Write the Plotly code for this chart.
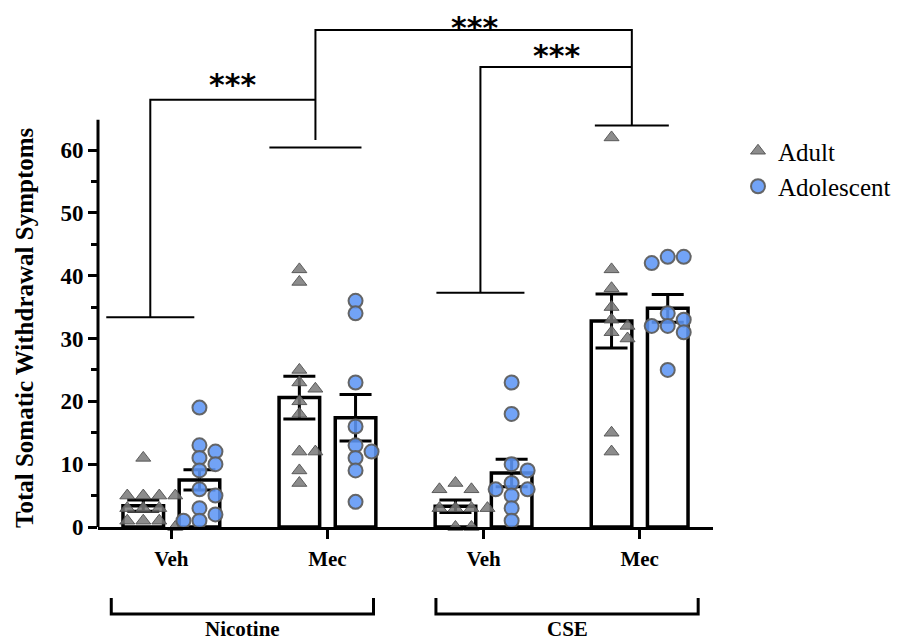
import plotly.graph_objects as go

# ---- data ----
group_labels = ["Veh", "Mec", "Veh", "Mec"]
drug_labels = ["Nicotine", "CSE"]

adult_points = [
    [11, 5, 5, 5, 5, 3, 3, 3, 1, 1, 1, 0],
    [41, 39, 25, 23, 22, 20, 18, 12, 12, 9, 7],
    [7, 6, 6, 3, 3, 3, 3, 0, 0],
    [62, 41, 38, 35, 33, 32, 31, 30, 15, 12],
]
adolescent_points = [
    [19, 13, 12, 11, 10, 9, 6, 5, 3, 2, 1, 1],
    [36, 34, 23, 16, 13, 12, 11, 9, 4],
    [23, 18, 10, 9, 7, 6, 6, 5, 3, 1],
    [43, 43, 42, 34, 33, 32, 32, 31, 25],
]
adult_mean = [3.4, 20.6, 3.3, 32.8]
adult_sem = [0.9, 3.4, 1.0, 4.3]
adolescent_mean = [7.5, 17.4, 8.6, 34.8]
adolescent_sem = [1.6, 3.7, 2.2, 2.2]

y_ticks = [0, 10, 20, 30, 40, 50, 60]

# heights of the significance brackets (axis units)
group_bar_y = [33.4, 60.4, 37.3, 63.9]
sig_top_y = [68.0, 79.1, 73.2]

# ---- geometry (page has an 8px body margin) ----
W, H = 893, 635
ML, MR, MT, MB = 90, 188, 0, 116
X_RANGE = [-0.47, 3.47]
Y_RANGE = [0, 82.6]
PX_X = (W - ML - MR) / (X_RANGE[1] - X_RANGE[0])
PX_Y = (H - MT - MB) / (Y_RANGE[1] - Y_RANGE[0])
OFF = 0.18
BAR_W = 0.26
drop_x = [-0.135, 0.923, 1.98, 2.95]
drop_half = [0.282, 0.295, 0.282, 0.237]


def swarm(vals, xc, diam=11.5, step=8.0):
    placed = []
    xs = [0.0] * len(vals)
    order = sorted(range(len(vals)), key=lambda i: -vals[i])
    cands = [0.0]
    for k in range(1, 8):
        cands += [k * step, -k * step]
    for i in order:
        ypx = vals[i] * PX_Y
        best = cands[-1]
        for c in cands:
            if all((c - px) ** 2 + (ypx - py) ** 2 >= diam ** 2 for px, py in placed):
                best = c
                break
        placed.append((best, ypx))
        xs[i] = xc + best / PX_X
    return xs


def paper_y(page_px):
    return (H - MB - (page_px - 8)) / (H - MT - MB)


def paper_x(page_px):
    return (page_px - 8 - ML) / (W - ML - MR)


centers = list(range(len(group_labels)))
adult_x = [c - OFF for c in centers]
adol_x = [c + OFF for c in centers]

fig = go.Figure()

for xs, means, sems in [(adult_x, adult_mean, adult_sem), (adol_x, adolescent_mean, adolescent_sem)]:
    fig.add_trace(go.Bar(
        x=xs, y=means, width=BAR_W, showlegend=False,
        marker=dict(color="white", line=dict(color="black", width=3.5)),
        error_y=dict(type="data", array=sems, symmetric=True, color="black", thickness=3, width=16),
    ))

ax, ay, bx, by = [], [], [], []
for g in centers:
    ax += swarm(adult_points[g], adult_x[g])
    ay += adult_points[g]
    bx += swarm(adolescent_points[g], adol_x[g])
    by += adolescent_points[g]

fig.add_trace(go.Scatter(
    x=ax, y=ay, mode="markers", name="Adult", legendgroup="a", cliponaxis=False,
    marker=dict(symbol="triangle-up", size=13, color="rgba(120,120,120,0.85)",
                line=dict(color="rgba(80,80,80,0.9)", width=1)),
))
fig.add_trace(go.Scatter(
    x=bx, y=by, mode="markers", name="Adolescent", legendgroup="b", cliponaxis=False,
    marker=dict(symbol="circle", size=14, color="rgba(95,150,245,0.88)",
                line=dict(color="rgba(95,95,95,0.95)", width=2)),
))

shapes = []
# y axis line (only up to ~65)
shapes.append(dict(type="line", xref="paper", yref="y", x0=0, x1=0, y0=0, y1=64.8,
                   line=dict(color="black", width=3)))

sig_line = dict(color="black", width=2)
for g, yv in enumerate(group_bar_y):
    shapes.append(dict(type="line", x0=drop_x[g] - drop_half[g], x1=drop_x[g] + drop_half[g],
                       y0=yv, y1=yv, line=sig_line))
# Nicotine Veh vs Mec
shapes.append(dict(type="path", path=f"M {drop_x[0]},{group_bar_y[0]} L {drop_x[0]},{sig_top_y[0]} L {drop_x[1]},{sig_top_y[0]}", line=sig_line))
# Nicotine Mec vs CSE Mec
shapes.append(dict(type="path", path=f"M {drop_x[1]},{group_bar_y[1] + 1.2} L {drop_x[1]},{sig_top_y[1]} L {drop_x[3]},{sig_top_y[1]} L {drop_x[3]},{group_bar_y[3]}", line=sig_line))
# CSE Veh vs Mec
shapes.append(dict(type="path", path=f"M {drop_x[2]},{group_bar_y[2]} L {drop_x[2]},{sig_top_y[2]} L {drop_x[3]},{sig_top_y[2]}", line=sig_line))

# drug brackets below axis
y_top, y_bot = paper_y(598), paper_y(614)
for mid in [0.455, 2.535]:
    shapes.append(dict(type="path", xref="x", yref="paper",
                       path=f"M {mid - 0.84},{y_top} L {mid - 0.84},{y_bot} L {mid + 0.84},{y_bot} L {mid + 0.84},{y_top}",
                       line=dict(color="black", width=3)))

annotations = []
star_font = dict(family="DejaVu Sans", size=30, color="black", weight="bold")
annotations.append(dict(x=0.39, y=70.4, text="***", showarrow=False, font=star_font, yanchor="middle"))
annotations.append(dict(x=2.47, y=75.0, text="***", showarrow=False, font=star_font, yanchor="middle"))
annotations.append(dict(x=1.94, y=1.0, yref="paper", text="***", showarrow=False, font=star_font, yanchor="top"))
for mid, lab in zip([0.455, 2.535], drug_labels):
    annotations.append(dict(x=mid, y=-MB / (H - MT - MB), xref="x", yref="paper", text=lab, showarrow=False,
                            yanchor="bottom",
                            font=dict(family="Liberation Serif", size=21, color="black", weight="bold")))
annotations.append(dict(x=paper_x(24), y=paper_y(328), xref="paper", yref="paper", xanchor="center",
                        text="Total Somatic Withdrawal Symptoms", textangle=-90, showarrow=False,
                        font=dict(family="Liberation Serif", size=25, color="black", weight="bold")))

fig.update_layout(
    width=W, height=H,
    margin=dict(l=ML, r=MR, t=MT, b=MB, autoexpand=False),
    paper_bgcolor="white", plot_bgcolor="white",
    font=dict(family="Liberation Serif", color="black"),
    barmode="overlay",
    shapes=shapes, annotations=annotations,
    legend=dict(x=paper_x(738), y=paper_y(128), xanchor="left", yanchor="top",
                font=dict(family="Liberation Serif", size=25, color="black"), tracegroupgap=0,
                bgcolor="rgba(0,0,0,0)"),
)
fig.update_xaxes(range=X_RANGE, tickvals=centers, ticktext=group_labels,
                 showline=True, linewidth=3, linecolor="black", showgrid=False, zeroline=False,
                 ticks="outside", ticklen=9, tickwidth=3, tickcolor="black", ticklabelstandoff=2,
                 tickfont=dict(family="Liberation Serif", size=21, color="black", weight="bold"))
fig.update_yaxes(range=Y_RANGE, tickvals=y_ticks, showline=False, showgrid=False, zeroline=False,
                 ticks="outside", ticklen=9, tickwidth=3, tickcolor="black",
                 minor=dict(tickvals=[5, 15, 25, 35, 45, 55], ticks="outside", ticklen=6, tickwidth=3, tickcolor="black"),
                 tickfont=dict(family="Liberation Serif", size=23, color="black", weight="bold"))

fig.write_html("out.html")
